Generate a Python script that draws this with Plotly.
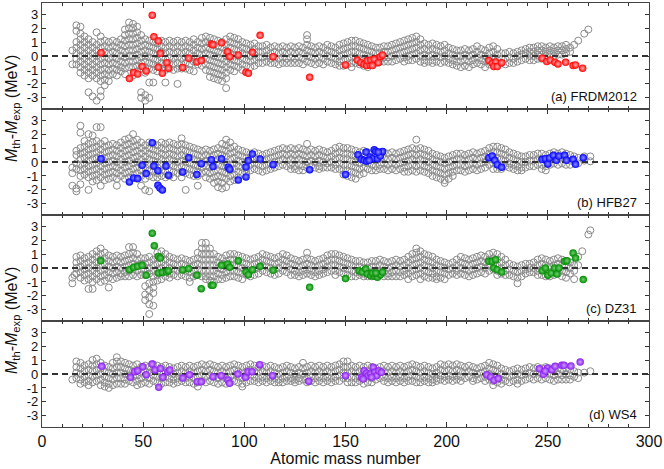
import plotly.graph_objects as go
from plotly.subplots import make_subplots

# ---------------- data ----------------
x_tick_vals = [0, 50, 100, 150, 200, 250, 300]
y_tick_vals = [-3, -2, -1, 0, 1, 2, 3]
y_tick_text = ["-3", "-2", "-1", "0", "1", "2", "3"]
panel_labels = ["(a) FRDM2012", "(b) HFB27", "(c) DZ31", "(d) WS4"]

# highlighted nuclei (mass numbers), shared by all panels
hl_A = [29.2, 43.2, 45.3, 47.3, 49.5, 51.5, 54.5, 55.3, 57.5, 58.5, 57.5, 59.5, 61.7, 62.5,
        69.5, 72.5, 76.5, 78.7, 83.7, 84.5, 88.7, 91.7, 92.8, 97.0, 100.8, 102.0, 104.0,
        107.8, 114.2, 132.3, 150.0]
hl_A_heavy = [155.8, 157.5, 159.2, 160.5, 162.2, 163.8, 165.0, 165.8, 167.2, 168.3, 160.8,
              162.5, 164.2, 166.2, 163.3, 220.8, 222.5, 224.2, 223.3, 225.0, 227.2, 247.2,
              249.5, 251.2, 253.5, 255.0, 258.8, 262.5, 263.7, 267.2]

red_y = [0.24, -1.62, -1.19, -1.29, -0.76, -1.07, 2.93, 1.38, 1.07, 0.19, -0.81, -1.24, -0.48,
         -0.88, -0.83, -0.17, -0.43, -0.33, 0.86, 0.81, 0.95, 0.31, -0.05, 0.07, -1.17, -1.24,
         0.26, 1.48, -0.05, -1.52, -0.64]
red_y_heavy = [-0.29, -0.48, -0.60, -0.69, -0.64, -0.52, -0.33, -0.17, -0.05, 0.07, -0.33,
               -0.29, -0.24, -0.48, -0.69, -0.33, -0.52, -0.43, -0.76, -0.76, -0.48, -0.17,
               -0.40, -0.29, -0.45, -0.57, -0.45, -0.69, -0.64, -0.88]

blue_A = [29.2, 43.2, 45.3, 47.3, 49.5, 51.5, 54.5, 55.3, 57.3, 57.3, 58.3, 59.5, 61.3, 62.5,
          69.5, 72.5, 76.5, 78.7, 83.7, 84.5, 88.7, 92.0, 92.8, 97.0, 100.8, 100.8, 102.0,
          104.0, 107.8, 114.2, 132.3, 150.0, 156.2, 157.8, 159.2, 160.2, 160.5, 162.2, 163.3,
          164.2, 165.0, 165.8, 167.2, 168.3, 161.7, 166.2, 220.8, 222.5, 223.8, 225.0, 227.2,
          247.2, 248.8, 250.0, 250.8, 252.8, 254.2, 255.5, 258.3, 259.2, 262.5, 263.7, 267.5]
blue_y = [0.24, -1.43, -1.14, -1.19, -0.24, -0.83, 1.38, -0.29, -0.62, -1.67, -1.86, -2.00,
          -0.29, -0.95, -0.71, 0.31, -0.90, -0.12, 0.17, -0.33, 0.24, -0.38, -0.52, -1.29,
          -0.36, -1.07, 0.10, 0.57, 0.21, -0.19, -0.55, -0.90, 0.52, 0.19, 0.12, 0.71, 0.05,
          0.36, 0.24, 0.88, 0.76, 0.24, 0.43, 0.76, 0.12, 0.71, 0.31, 0.43, 0.12, -0.19, -0.38,
          0.19, 0.24, -0.14, 0.29, 0.48, 0.12, 0.43, 0.48, 0.12, 0.19, -0.17, 0.31]

green_A = [29.0, 43.2, 45.3, 47.3, 49.5, 51.5, 54.5, 55.5, 57.5, 58.5, 57.5, 59.5, 61.5, 62.5,
           69.5, 72.5, 76.5, 78.7, 83.7, 84.5, 88.7, 91.7, 92.8, 97.0, 100.8, 102.0, 104.0,
           107.8, 114.2, 132.3, 150.0, 156.7, 158.3, 160.0, 160.8, 162.5, 164.2, 165.8, 167.2,
           168.3, 163.3, 165.0, 220.8, 222.5, 224.2, 223.3, 225.0, 227.2, 247.2, 248.8, 250.0,
           251.7, 253.3, 254.5, 255.5, 258.3, 259.5, 262.5, 263.7, 267.5]
green_y = [0.52, -0.12, 0.05, 0.12, 0.19, -0.52, 2.50, 1.60, 0.83, 0.71, -0.36, -0.31, -0.29,
           -0.19, -0.14, -0.05, -0.52, -1.48, -1.24, -1.24, 0.19, 0.29, 0.05, 0.52, -0.29,
           -0.48, -0.12, 0.12, -0.17, -1.38, -0.76, -0.19, -0.29, -0.07, -0.43, -0.55, -0.60,
           -0.67, -0.48, -0.29, -0.36, -0.36, 0.48, 0.48, 0.60, 0.00, -0.12, -0.29, -0.19,
           0.00, -0.52, -0.36, 0.00, -0.43, 0.00, 0.48, 0.52, 1.07, 0.71, -0.83]

violet_A = [29.5, 43.7, 45.7, 47.3, 49.8, 51.5, 54.4, 55.8, 57.7, 58.6, 59.7, 62.2, 63.2, 69.6,
            72.9, 76.7, 78.7, 84.5, 88.6, 91.9, 92.7, 96.8, 100.6, 101.8, 103.8, 107.6, 113.9,
            131.8, 150.0, 157.9, 159.2, 160.4, 161.2, 162.4, 163.7, 164.5, 165.3, 166.5, 167.8,
            162.9, 158.7, 219.8, 221.8, 223.4, 225.5, 245.8, 247.8, 249.8, 248.7, 252.0, 253.6,
            256.9, 258.0, 261.4, 266.0]
violet_y = [0.55, -0.24, 0.17, 0.24, 0.52, -0.05, 0.71, 0.29, -0.95, 0.40, -0.24, 0.17, 0.29,
            -0.29, -0.05, -0.55, -0.55, -0.19, -0.12, -0.43, -0.67, 0.00, -0.24, 0.17, 0.17,
            0.67, -0.12, -0.52, -0.12, -0.24, 0.24, 0.05, -0.12, 0.00, 0.48, 0.12, -0.12, 0.24,
            0.12, -0.24, -0.36, -0.05, -0.21, -0.45, -0.33, 0.38, -0.02, 0.43, 0.21, 0.31, 0.55,
            0.62, 0.62, 0.57, 0.86]

# all other nuclei: (mass number, deviations in MeV)
gray_a = [
    (15, [0.4, -0.6]), (17, [2.2, 1.8, 1.0, 0.6, 0.2, -0.2, -0.6]),
    (19, [2.1, 1.6, 1.2, 0.8, 0.4, 0.0, -0.4, -0.8, -1.2]),
    (21, [1.4, 1.0, 0.6, 0.2, -0.2, -0.6, -1.0, -1.4]),
    (23, [1.2, 0.8, 0.4, 0.0, -0.4, -0.8, -1.2, -1.6, -2.6]),
    (25, [1.0, 0.6, 0.2, -0.2, -0.6, -1.0, -1.4, -2.9]),
    (27, [1.7, 0.8, 0.4, 0.0, -0.4, -0.8, -1.2, -1.6, -3.2]),
    (29, [1.4, 1.0, 0.6, 0.2, -0.2, -0.6, -1.0, -1.4, -1.8, -2.5, -2.9]),
    (31, [1.1, 0.7, 0.3, -0.1, -0.5, -0.9, -1.3, -1.7, -2.1]),
    (33, [1.0, 0.6, 0.2, -0.2, -0.6, -1.0, -1.4, -1.8]),
    (35, [1.1, 0.7, 0.3, -0.1, -0.5, -0.9, -1.3]),
    (37, [1.0, 0.6, 0.2, -0.2, -0.6, -1.0, -1.4]),
    (39, [1.2, 0.8, 0.4, 0.0, -0.4, -0.8, -1.1]),
    (41, [1.9, 1.5, 1.1, 0.7, 0.3, -0.1, -0.5, -0.9, -1.3]),
    (43, [2.4, 2.0, 1.6, 1.2, 0.8, 0.4, 0.0, -0.4, -0.8]),
    (45, [2.3, 2.0, 1.6, 1.2, 0.8, 0.4, 0.0, -0.4, -0.8, -1.4]),
    (47, [2.1, 1.7, 1.3, 0.9, 0.5, 0.1, -0.3, -0.7, -1.1]),
    (49, [1.5, 1.1, 0.7, 0.3, -0.1, -0.5, -0.9, -2.6, -3.0]),
    (51, [1.2, 0.8, 0.4, 0.0, -0.4, -0.8, -1.2, -2.8, -3.2]),
    (53, [1.1, 0.7, 0.3, -0.1, -0.5, -0.9, -1.9, -3.0]),
    (55, [1.0, 0.6, 0.2, -0.2, -0.6, -1.0, -1.9]),
    (57, [0.9, 0.5, 0.1, -0.3, -0.7, -1.1]),
    (59, [1.1, 0.7, 0.3, -0.1, -0.5, -0.9]),
    (61, [1.0, 0.6, 0.2, -0.2, -0.6, -1.0, -1.9]),
    (63, [1.1, 0.7, 0.3, -0.1, -0.5, -0.9]),
    (65, [1.0, 0.6, 0.2, -0.2, -0.6, -1.0]),
    (67, [1.1, 0.7, 0.3, -0.1, -0.5, -0.9, -2.0]),
    (69, [1.0, 0.6, 0.2, -0.2, -0.6, -0.9]),
    (71, [1.1, 0.7, 0.3, -0.1, -0.5, -0.9]),
    (73, [1.0, 0.6, 0.2, -0.2, -0.6, -1.0]),
    (75, [1.2, 0.8, 0.4, 0.0, -0.4, -1.1]),
    (77, [1.0, 0.6, 0.2, -0.2, -0.6]),
    (79, [1.3, 0.9, 0.5, 0.1, -0.3, -0.7]),
    (81, [1.4, 1.0, 0.6, 0.2, -0.2, -0.6, -1.0]),
    (83, [1.3, 0.9, 0.5, 0.1, -0.3, -0.7, -1.1, -1.5]),
    (85, [1.2, 0.8, 0.4, 0.0, -0.4, -0.8, -1.2, -1.6]),
    (87, [1.1, 0.7, 0.3, -0.1, -0.5, -0.9, -1.3, -1.7]),
    (89, [1.0, 0.6, 0.2, -0.2, -0.6, -1.0, -1.4, -1.8]),
    (91, [1.2, 0.8, 0.4, 0.0, -0.4, -0.8, -1.2, -1.6, -2.3]),
    (93, [1.4, 1.0, 0.6, 0.2, -0.2, -0.6, -1.0]),
    (95, [1.3, 0.9, 0.5, 0.1, -0.3, -0.7, -1.1]),
    (97, [1.2, 0.8, 0.4, 0.0, -0.4, -0.8]),
    (99, [1.0, 0.6, 0.2, -0.2, -0.6, -1.0]),
    (101, [0.9, 0.5, 0.1, -0.3, -0.7]), (103, [0.8, 0.4, 0.0, -0.4, -0.8]),
    (105, [0.9, 0.5, 0.1, -0.3, -0.7]), (107, [0.7, 0.3, -0.1, -0.5]),
    (109, [0.7, 0.3, -0.1, -0.5]), (111, [0.8, 0.4, 0.0, -0.4]),
    (113, [0.6, 0.2, -0.2, -0.5]), (115, [0.7, 0.3, -0.1, -0.5]),
    (117, [0.6, 0.2, -0.2, -0.6]), (119, [0.7, 0.3, -0.1, -0.5]),
    (121, [0.6, 0.2, -0.2, -0.5]), (123, [0.7, 0.3, -0.1, -0.5]),
    (125, [0.6, 0.2, -0.2, -0.5]), (127, [0.7, 0.3, -0.1, -0.5]),
    (129, [0.6, 0.2, -0.2, -0.6]), (131, [1.5, 1.2, 0.8, 0.4, 0.0, -0.4]),
    (133, [0.7, 0.3, -0.1, -0.5]), (135, [0.6, 0.2, -0.2, -0.6]),
    (137, [0.7, 0.3, -0.1, -0.5]), (139, [0.6, 0.2, -0.2, -0.6]),
    (141, [0.8, 0.4, 0.0, -0.4]), (143, [0.7, 0.3, -0.1, -0.5]),
    (145, [0.6, 0.2, -0.2, -0.6]), (147, [0.8, 0.4, 0.0, -0.4, -0.7]),
    (149, [0.9, 0.5, 0.1, -0.3, -0.7]), (151, [1.0, 0.6, 0.2, -0.2, -0.6]),
    (153, [1.1, 0.7, 0.3, -0.1, -0.5, -0.8]), (155, [1.1, 0.7, 0.3, -0.1, -0.5]),
    (157, [1.0, 0.6, 0.2, -0.2, -0.6]), (159, [0.9, 0.5, 0.1, -0.3, -0.7]),
    (161, [0.8, 0.4, 0.0, -0.4, -0.8]), (163, [0.7, 0.3, -0.1, -0.5]),
    (165, [0.6, 0.2, -0.2, -0.5]), (167, [0.6, 0.2, -0.2, -0.4]),
    (169, [0.7, 0.3, -0.1, -0.4]), (171, [0.7, 0.3, -0.1, -0.4]),
    (173, [0.8, 0.4, 0.0, -0.4]), (175, [0.9, 0.5, 0.1, -0.3]),
    (177, [1.0, 0.6, 0.2, -0.2]), (179, [1.1, 0.7, 0.3, -0.1, -0.4]),
    (181, [1.2, 0.8, 0.4, 0.0, -0.3]), (183, [1.3, 0.9, 0.5, 0.1, -0.3]),
    (185, [1.4, 1.0, 0.6, 0.2, -0.2]), (187, [1.2, 0.8, 0.4, 0.0, -0.4]),
    (189, [0.9, 0.5, 0.1, -0.3, -0.5]), (191, [0.8, 0.4, 0.0, -0.4]),
    (193, [0.9, 0.5, 0.1, -0.3, -0.5]), (195, [0.8, 0.4, 0.0, -0.4]),
    (197, [0.7, 0.3, -0.1, -0.5]), (199, [0.8, 0.4, 0.0, -0.4]),
    (201, [0.6, 0.2, -0.2, -0.5]), (203, [0.5, 0.1, -0.3, -0.6]),
    (205, [0.4, 0.0, -0.4, -0.7]), (207, [0.4, 0.0, -0.4, -0.8]),
    (209, [0.5, 0.1, -0.3, -0.7]), (211, [0.4, 0.0, -0.4, -0.8]),
    (213, [0.5, 0.1, -0.3, -0.6]), (215, [0.7, 0.3, -0.1, -0.5]),
    (217, [0.5, 0.1, -0.3, -0.6]), (219, [0.4, 0.0, -0.4, -0.8]),
    (221, [0.6, 0.2, -0.2, -0.6]), (223, [0.7, 0.3, -0.1, -0.5]),
    (225, [0.5, 0.1, -0.3, -0.6]), (227, [0.2, -0.2, -0.5]),
    (229, [0.2, -0.2, -0.6]), (231, [0.3, -0.1, -0.5]),
    (233, [0.2, -0.2, -0.5]), (235, [0.3, 0.0, -0.4]),
    (237, [0.4, 0.1, -0.3]), (239, [0.5, 0.2, -0.2]),
    (241, [0.6, 0.3, 0.0, -0.3]), (243, [0.6, 0.3, 0.0, -0.3]),
    (245, [0.7, 0.4, 0.1, -0.2]), (247, [0.7, 0.4, 0.1, -0.2]),
    (249, [0.6, 0.3, 0.0]), (251, [0.7, 0.4, 0.1]), (253, [0.6, 0.3, 0.0]),
    (255, [0.7, 0.4, 0.1]), (257, [0.7, 0.4, 0.1]), (259, [0.8, 0.5, 0.2]),
    (261, [0.6, 0.3]), (263, [0.8]), (265, [1.1]), (268, [1.6]), (270, [1.9]),
]

gray_b = [
    (15, [-0.4, -0.8, -1.7]), (17, [0.8, 0.5, -0.1, -0.5, -1.9, -2.1]),
    (19, [2.6, 2.1, 1.0, 0.6, 0.2, -0.2, -0.6, -1.0, -1.6]),
    (21, [1.5, 1.1, 0.7, 0.3, -0.1, -0.5, -0.9]),
    (23, [2.0, 1.3, 0.9, 0.5, 0.1, -0.3, -0.7, -1.1, -2.0]),
    (25, [1.9, 1.4, 1.0, 0.6, 0.2, -0.2, -0.6, -1.0, -1.4]),
    (27, [2.5, 1.5, 1.1, 0.7, 0.3, -0.1, -0.5, -0.9, -1.3]),
    (29, [2.5, 1.3, 0.9, 0.5, 0.1, -0.3, -0.7, -1.1, -1.7]),
    (31, [1.5, 1.1, 0.7, 0.3, -0.1, -0.5, -0.9, -1.3]),
    (33, [1.2, 0.8, 0.4, 0.0, -0.4, -0.8, -1.2]),
    (35, [1.3, 0.9, 0.5, 0.1, -0.3, -0.7, -1.1]),
    (37, [1.2, 0.8, 0.4, 0.0, -0.4, -0.8, -1.2, -1.7]),
    (39, [1.4, 1.0, 0.6, 0.2, -0.2, -0.6, -1.0]),
    (41, [1.6, 1.2, 0.8, 0.4, 0.0, -0.4, -0.8, -1.2]),
    (43, [1.7, 1.3, 0.9, 0.5, 0.1, -0.3, -0.7, -1.1]),
    (45, [2.0, 1.5, 1.1, 0.7, 0.3, -0.1, -0.5, -0.9]),
    (47, [1.6, 1.2, 0.8, 0.4, 0.0, -0.4, -0.8, -1.2]),
    (49, [1.4, 1.0, 0.6, 0.2, -0.2, -0.6, -1.0, -1.7]),
    (51, [1.2, 0.8, 0.4, 0.0, -0.4, -0.8, -1.2, -2.0]),
    (53, [1.4, 1.0, 0.6, 0.2, -0.2, -0.6, -1.0, -2.1]),
    (55, [1.3, 0.9, 0.5, 0.1, -0.3, -0.7, -1.1]),
    (57, [1.2, 0.8, 0.4, 0.0, -0.4, -0.8, -1.1]),
    (59, [1.4, 1.0, 0.6, 0.2, -0.2, -0.6, -1.0]),
    (61, [1.3, 0.9, 0.5, 0.1, -0.3, -0.7, -1.1]),
    (63, [1.4, 1.0, 0.6, 0.2, -0.2, -0.6, -1.0]),
    (65, [1.3, 0.9, 0.5, 0.1, -0.3, -0.7, -1.1]),
    (67, [1.2, 0.8, 0.4, 0.0, -0.4, -0.8]),
    (69, [1.7, 1.3, 0.9, 0.5, 0.1, -0.3, -0.7, -1.1]),
    (71, [1.2, 0.8, 0.4, 0.0, -0.4, -0.8, -2.0]),
    (73, [1.1, 0.7, 0.3, -0.1, -0.5, -0.9]),
    (75, [1.0, 0.6, 0.2, -0.2, -0.6, -1.0]),
    (77, [0.9, 0.5, 0.1, -0.3, -0.7, -1.0, -1.7]),
    (79, [0.8, 0.4, 0.0, -0.4, -0.8]),
    (81, [0.9, 0.5, 0.1, -0.3, -0.7, -1.1]),
    (83, [0.8, 0.4, 0.0, -0.4, -0.8, -1.2]),
    (85, [0.9, 0.5, 0.1, -0.3, -0.7, -1.1, -1.5]),
    (87, [1.0, 0.6, 0.2, -0.2, -0.6, -1.0, -1.4, -1.8]),
    (89, [1.3, 0.9, 0.5, 0.1, -0.3, -0.7, -1.1, -1.5, -1.9]),
    (91, [1.6, 1.2, 0.8, 0.4, 0.0, -0.4, -0.8, -1.2, -1.8]),
    (93, [1.4, 1.0, 0.6, 0.2, -0.2, -0.6, -1.0, -1.4]),
    (95, [1.1, 0.7, 0.3, -0.1, -0.5, -0.9, -1.3]),
    (97, [0.9, 0.5, 0.1, -0.3, -0.7, -1.1]),
    (99, [0.8, 0.4, 0.0, -0.4, -0.8]), (101, [0.7, 0.3, -0.1, -0.5, -0.8]),
    (103, [0.6, 0.2, -0.2, -0.6]), (105, [0.7, 0.3, -0.1, -0.5]),
    (107, [0.6, 0.2, -0.2, -0.6]), (109, [0.5, 0.1, -0.3, -0.7]),
    (111, [0.6, 0.2, -0.2, -0.6]), (113, [0.7, 0.3, -0.1, -0.5]),
    (115, [0.8, 0.4, 0.0, -0.4]), (117, [0.9, 0.5, 0.1, -0.3]),
    (119, [1.0, 0.6, 0.2, -0.2]), (121, [0.9, 0.5, 0.1, -0.3]),
    (123, [1.0, 0.6, 0.2, -0.2, -0.5]), (125, [0.9, 0.5, 0.1, -0.3, -0.5]),
    (127, [1.0, 0.6, 0.2, -0.2, -0.6]), (129, [0.9, 0.5, 0.1, -0.3, -0.6]),
    (131, [1.3, 0.8, 0.4, 0.0, -0.4]), (133, [0.9, 0.5, 0.1, -0.3]),
    (135, [0.8, 0.4, 0.0, -0.4]), (137, [0.9, 0.5, 0.1, -0.3, -0.5]),
    (139, [0.8, 0.4, 0.0, -0.4]), (141, [0.7, 0.3, -0.1, -0.4]),
    (143, [0.8, 0.4, 0.0, -0.4]), (145, [1.0, 0.6, 0.2, -0.2, -0.5]),
    (147, [1.1, 0.7, 0.3, -0.1, -0.5]), (149, [1.0, 0.6, 0.2, -0.2, -0.6, -0.9]),
    (151, [1.0, 0.6, 0.2, -0.2, -0.6, -1.0]), (153, [0.9, 0.5, 0.1, -0.3, -0.7, -1.1]),
    (155, [0.8, 0.4, 0.0, -0.4, -0.8, -1.2]), (157, [0.7, 0.3, -0.1, -0.5, -0.9]),
    (159, [0.8, 0.4, 0.0, -0.4, -0.8]), (161, [0.7, 0.3, -0.1, -0.5]),
    (163, [0.6, 0.2, -0.2, -0.6]), (165, [0.5, 0.1, -0.3, -0.6]),
    (167, [0.6, 0.2, -0.2, -0.5]), (169, [0.7, 0.3, -0.1, -0.5]),
    (171, [0.6, 0.2, -0.2, -0.6]), (173, [0.7, 0.3, -0.1, -0.5]),
    (175, [0.6, 0.2, -0.2, -0.6]), (177, [0.7, 0.3, -0.1, -0.5]),
    (179, [0.8, 0.4, 0.0, -0.4, -0.7]), (181, [0.9, 0.5, 0.1, -0.3, -0.7]),
    (183, [1.0, 0.6, 0.2, -0.2, -0.6]), (185, [1.6, 0.9, 0.5, 0.1, -0.3, -0.7]),
    (187, [1.0, 0.6, 0.2, -0.2, -0.6]), (189, [0.9, 0.5, 0.1, -0.3, -0.7]),
    (191, [0.8, 0.4, 0.0, -0.4, -0.8]), (193, [0.6, 0.2, -0.2, -0.6, -1.0]),
    (195, [0.5, 0.1, -0.3, -0.7, -1.1]), (197, [0.4, 0.0, -0.4, -0.8, -1.2]),
    (199, [0.3, -0.1, -0.5, -0.9, -1.3, -1.5]), (201, [0.4, 0.0, -0.4, -0.8, -1.2]),
    (203, [0.5, 0.1, -0.3, -0.7, -1.0]), (205, [0.6, 0.2, -0.2, -0.6]),
    (207, [0.6, 0.2, -0.2, -0.6]), (209, [0.5, 0.1, -0.3, -0.7]),
    (211, [0.6, 0.2, -0.2, -0.6]), (213, [0.7, 0.3, -0.1, -0.5]),
    (215, [0.6, 0.2, -0.2, -0.6]), (217, [0.7, 0.3, -0.1, -0.5]),
    (219, [0.8, 0.4, 0.0, -0.4]), (221, [1.0, 0.6, 0.2, -0.2]),
    (223, [1.1, 0.7, 0.3, -0.1, -0.5]), (225, [1.1, 0.7, 0.3, -0.1, -0.5]),
    (227, [1.0, 0.6, 0.2, -0.2, -0.5]), (229, [0.9, 0.5, 0.1, -0.3]),
    (231, [0.7, 0.3, -0.1, -0.4]), (233, [0.6, 0.2, -0.2, -0.5]),
    (235, [0.5, 0.1, -0.3, -0.6]), (237, [0.4, 0.0, -0.4, -0.6]),
    (239, [0.4, 0.0, -0.4]), (241, [0.5, 0.1, -0.3]), (243, [0.5, 0.1, -0.3]),
    (245, [0.6, 0.2, -0.2]), (247, [0.6, 0.2, -0.2, -0.5]),
    (249, [0.5, 0.1, -0.3, -0.6]), (251, [0.6, 0.2, -0.2]), (253, [0.7, 0.3, -0.1]),
    (255, [0.6, 0.2, -0.2]), (257, [0.7, 0.3, -0.1]), (259, [0.6, 0.2, -0.2]),
    (261, [0.5, 0.1, -0.2]), (263, [0.4, 0.0]), (265, [0.3, -0.1]),
    (268, [0.4, 0.1]), (271, [0.4, 0.05]),
]

gray_c = [
    (15, [-1.1, -0.7]), (16, [-0.5]), (17, [0.8, 0.4, 0.0, -0.4]),
    (19, [0.9, 0.5, 0.1, -0.3, -0.7]), (21, [0.7, 0.3, -0.1, -0.5, -0.9]),
    (23, [0.8, 0.4, 0.0, -0.4, -0.8, -1.5]), (25, [1.0, 0.6, 0.2, -0.2, -0.6, -1.0, -1.5]),
    (27, [1.2, 0.8, 0.4, 0.0, -0.4, -0.8]), (29, [1.4, 1.0, 0.6, 0.2, -0.2, -0.6, -1.0]),
    (31, [1.1, 0.7, 0.3, -0.1, -0.5, -0.9]), (33, [0.9, 0.5, 0.1, -0.3, -0.7, -1.4]),
    (35, [0.8, 0.4, 0.0, -0.4, -0.8]), (37, [0.9, 0.5, 0.1, -0.3, -0.7]),
    (39, [0.8, 0.4, 0.0, -0.4, -0.6]), (41, [0.9, 0.5, 0.1, -0.3, -0.6]),
    (43, [1.5, 1.0, 0.6, 0.2, -0.2, -0.6]), (45, [1.5, 1.1, 0.7, 0.3, -0.1, -0.5]),
    (47, [1.0, 0.6, 0.2, -0.2, -0.6]), (49, [0.7, 0.3, -0.1, -0.5]),
    (51, [0.7, 0.3, -0.1, -0.5, -1.3, -1.9, -2.3]),
    (53, [0.8, 0.4, 0.0, -0.4, -1.1, -1.6, -2.1, -2.6, -3.3]),
    (55, [0.6, 0.2, -0.2, -0.6, -1.0, -1.4, -1.8, -2.7]),
    (57, [1.1, 0.7, 0.3, -0.1, -0.5, -0.9]), (59, [1.2, 0.8, 0.4, 0.0, -0.4, -0.8]),
    (61, [1.0, 0.6, 0.2, -0.2, -0.6]), (63, [0.8, 0.4, 0.0, -0.4, -0.7]),
    (65, [0.7, 0.3, -0.1, -0.5]), (67, [0.6, 0.2, -0.2, -0.6]),
    (69, [0.7, 0.3, -0.1, -0.5]), (71, [0.6, 0.2, -0.2, -0.6]),
    (73, [0.5, 0.1, -0.3, -0.7, -1.0]), (75, [0.6, 0.2, -0.2, -0.6]),
    (77, [1.1, 0.7, 0.3, -0.1, -0.5]), (79, [1.8, 1.4, 1.0, 0.6, 0.2, -0.2, -0.6]),
    (81, [1.8, 1.4, 1.0, 0.6, 0.2, -0.2, -0.6, -0.8]),
    (83, [1.4, 1.0, 0.6, 0.2, -0.2, -0.6, -0.9]), (85, [1.0, 0.6, 0.2, -0.2, -0.6, -1.0]),
    (87, [0.8, 0.4, 0.0, -0.4, -0.8]), (89, [0.7, 0.3, -0.1, -0.5, -0.8]),
    (91, [0.9, 0.5, 0.1, -0.3, -0.7]), (93, [1.0, 0.6, 0.2, -0.2, -0.6]),
    (95, [1.0, 0.6, 0.2, -0.2, -0.6]), (97, [0.9, 0.5, 0.1, -0.3, -0.7]),
    (99, [0.8, 0.4, 0.0, -0.4, -0.8]), (101, [0.7, 0.3, -0.1, -0.5]),
    (103, [0.6, 0.2, -0.2, -0.6]), (105, [0.7, 0.3, -0.1, -0.5]),
    (107, [0.8, 0.4, 0.0, -0.4]), (109, [1.0, 0.6, 0.2, -0.2]),
    (111, [0.9, 0.5, 0.1, -0.3]), (113, [0.8, 0.4, 0.0, -0.4]),
    (115, [0.7, 0.3, -0.1, -0.5]), (117, [0.8, 0.4, 0.0, -0.4]),
    (119, [1.0, 0.6, 0.2, -0.2]), (121, [0.9, 0.5, 0.1, -0.3]),
    (123, [0.7, 0.3, -0.1, -0.5]), (125, [0.6, 0.2, -0.2, -0.5]),
    (127, [0.5, 0.1, -0.3, -0.6]), (129, [0.6, 0.2, -0.2, -0.5]),
    (131, [1.1, 0.7, 0.3, -0.1, -0.4]), (133, [0.6, 0.2, -0.2, -0.5]),
    (135, [0.5, 0.1, -0.3, -0.6]), (137, [0.6, 0.2, -0.2, -0.5]),
    (139, [0.7, 0.3, -0.1, -0.4]), (141, [0.9, 0.5, 0.1, -0.3]),
    (143, [1.0, 0.6, 0.2, -0.2]), (145, [1.0, 0.6, 0.2, -0.2, -0.5]),
    (147, [0.9, 0.5, 0.1, -0.3]), (149, [0.8, 0.4, 0.0, -0.4]),
    (151, [0.7, 0.3, -0.1, -0.5]), (153, [0.6, 0.2, -0.2, -0.6]),
    (155, [0.5, 0.1, -0.3, -0.6]), (157, [0.5, 0.1, -0.3, -0.5]),
    (159, [0.4, 0.0, -0.4, -0.6]), (161, [0.4, 0.0, -0.4, -0.6]),
    (163, [0.5, 0.1, -0.3, -0.6]), (165, [0.5, 0.1, -0.3, -0.6]),
    (167, [0.6, 0.2, -0.2, -0.5]), (169, [0.5, 0.1, -0.3, -0.6]),
    (171, [0.4, 0.0, -0.4, -0.6]), (173, [0.5, 0.1, -0.3, -0.6]),
    (175, [0.6, 0.2, -0.2, -0.6]), (177, [0.5, 0.1, -0.3, -0.6]),
    (179, [0.6, 0.2, -0.2, -0.5]), (181, [0.8, 0.4, 0.0, -0.4, -0.8]),
    (183, [1.0, 0.6, 0.2, -0.2, -0.6]), (185, [1.4, 1.1, 0.7, 0.3, -0.1, -0.5]),
    (187, [1.2, 0.8, 0.4, 0.0, -0.4, -0.8]), (189, [1.0, 0.6, 0.2, -0.2, -0.6]),
    (191, [0.9, 0.5, 0.1, -0.3, -0.7]), (193, [0.8, 0.4, 0.0, -0.4, -0.7]),
    (195, [0.6, 0.2, -0.2, -0.6, -0.8]), (197, [0.5, 0.1, -0.3, -0.7]),
    (199, [0.4, 0.0, -0.4, -0.8]), (201, [0.3, -0.1, -0.5]),
    (203, [0.4, 0.0, -0.4]), (205, [0.6, 0.2, -0.2, -0.5]),
    (207, [0.8, 0.4, 0.0, -0.4]), (209, [0.7, 0.3, -0.1, -0.5]),
    (211, [0.6, 0.2, -0.2, -0.6]), (213, [0.7, 0.3, -0.1, -0.5]),
    (215, [0.8, 0.4, 0.0, -0.4]), (217, [0.9, 0.5, 0.1, -0.3]),
    (219, [0.8, 0.4, 0.0, -0.4]), (221, [1.0, 0.6, 0.2, -0.2]),
    (223, [1.1, 0.7, 0.3, -0.1]), (225, [1.0, 0.6, 0.2, -0.2, -0.5]),
    (227, [0.8, 0.4, 0.0, -0.4]), (229, [0.6, 0.2, -0.2, -0.5]),
    (231, [0.3, -0.1, -0.5]), (233, [0.2, -0.2, -0.6]),
    (235, [0.1, -0.3, -0.7, -1.1]), (237, [0.2, -0.2, -0.6]),
    (239, [0.3, -0.1, -0.4]), (241, [0.3, 0.0, -0.3]), (243, [0.4, 0.0, -0.3]),
    (245, [0.6, 0.2, -0.2, -0.5]), (247, [0.7, 0.3, -0.1, -0.5]),
    (249, [0.6, 0.2, -0.2, -0.6]), (251, [0.5, 0.1, -0.3, -0.6]),
    (253, [0.6, 0.2, -0.2, -0.5]), (255, [0.7, 0.3, -0.1, -0.4]),
    (257, [0.6, 0.2, -0.2, -0.6]), (259, [0.5, 0.1, -0.3, -0.7]),
    (261, [0.4, 0.0, -0.4]), (263, [0.2, -0.2, -0.8]), (265, [0.8, 0.2]),
    (267, [1.2]), (270, [2.4]), (271, [2.7]),
]

gray_d = [
    (15, [-0.4]), (17, [0.9, 0.5, 0.1, -0.3]), (19, [0.8, 0.4, 0.0, -0.4, -0.7]),
    (21, [0.6, 0.2, -0.2, -0.6]), (23, [0.7, 0.3, -0.1, -0.5, -0.8]),
    (25, [1.0, 0.6, 0.2, -0.2, -0.6]), (27, [1.1, 0.7, 0.3, -0.1, -0.5]),
    (29, [0.8, 0.4, 0.0, -0.4, -0.8]), (31, [0.6, 0.2, -0.2, -0.6, -0.9]),
    (33, [0.5, 0.1, -0.3, -0.7, -1.0]), (35, [0.8, 0.4, 0.0, -0.4, -0.8]),
    (37, [1.2, 0.9, 0.5, 0.1, -0.3, -0.7]), (39, [0.9, 0.5, 0.1, -0.3, -0.7]),
    (41, [0.8, 0.4, 0.0, -0.4, -0.7]), (43, [0.7, 0.3, -0.1, -0.5]),
    (45, [0.6, 0.2, -0.2, -0.6]), (47, [0.7, 0.3, -0.1, -0.5, -0.8]),
    (49, [0.5, 0.1, -0.3, -0.7]), (51, [0.6, 0.2, -0.2, -0.6]),
    (53, [0.5, 0.1, -0.3, -0.7]), (55, [0.7, 0.3, -0.1, -0.5]),
    (57, [0.6, 0.2, -0.2, -0.6]), (59, [0.5, 0.1, -0.3, -0.7]),
    (61, [0.6, 0.2, -0.2, -0.6]), (63, [0.5, 0.1, -0.3, -0.6]),
    (65, [0.4, 0.0, -0.4, -0.7]), (67, [0.5, 0.1, -0.3, -0.6]),
    (69, [0.6, 0.2, -0.2, -0.5]), (71, [0.5, 0.1, -0.3, -0.6]),
    (73, [0.6, 0.2, -0.2, -0.6]), (75, [0.5, 0.1, -0.3, -0.7]),
    (77, [0.6, 0.2, -0.2, -0.6, -0.9]), (79, [0.7, 0.3, -0.1, -0.5]),
    (81, [0.6, 0.2, -0.2, -0.6]), (83, [0.7, 0.3, -0.1, -0.5]),
    (85, [0.6, 0.2, -0.2, -0.6]), (87, [0.5, 0.1, -0.3, -0.7]),
    (89, [0.6, 0.2, -0.2, -0.6]), (91, [0.5, 0.1, -0.3, -0.7]),
    (93, [0.6, 0.2, -0.2, -0.6]), (95, [0.7, 0.3, -0.1, -0.5]),
    (97, [0.6, 0.2, -0.2, -0.6]), (99, [0.5, 0.1, -0.3, -0.7, -0.9]),
    (101, [0.6, 0.2, -0.2, -0.6]), (103, [0.7, 0.3, -0.1, -0.5]),
    (105, [0.6, 0.2, -0.2, -0.5]), (107, [0.5, 0.1, -0.3, -0.6]),
    (109, [0.6, 0.2, -0.2, -0.5]), (111, [0.5, 0.1, -0.3, -0.6]),
    (113, [0.6, 0.2, -0.2, -0.5]), (115, [0.5, 0.1, -0.3, -0.6]),
    (117, [0.4, 0.0, -0.4, -0.6]), (119, [0.5, 0.1, -0.3, -0.6]),
    (121, [0.6, 0.2, -0.2, -0.5]), (123, [0.5, 0.1, -0.3, -0.5]),
    (125, [0.4, 0.0, -0.4, -0.6]), (127, [0.5, 0.1, -0.3, -0.5]),
    (129, [0.8, 0.4, 0.0, -0.4]), (131, [0.5, 0.1, -0.3, -0.6]),
    (133, [0.6, 0.2, -0.2, -0.5]), (135, [0.5, 0.1, -0.3, -0.6]),
    (137, [0.6, 0.2, -0.2, -0.5]), (139, [0.5, 0.1, -0.3, -0.6]),
    (141, [0.6, 0.2, -0.2, -0.5]), (143, [0.5, 0.1, -0.3, -0.6]),
    (145, [0.6, 0.2, -0.2, -0.5]), (147, [0.7, 0.3, -0.1, -0.5]),
    (149, [0.9, 0.5, 0.1, -0.3]), (151, [0.9, 0.5, 0.1, -0.3, -0.6]),
    (153, [0.6, 0.2, -0.2, -0.6]), (155, [0.5, 0.1, -0.3, -0.6]),
    (157, [0.6, 0.2, -0.2, -0.5]), (159, [0.5, 0.1, -0.3, -0.7]),
    (161, [0.6, 0.2, -0.2, -0.6]), (163, [0.5, 0.1, -0.3, -0.6]),
    (165, [0.4, 0.0, -0.4]), (167, [0.5, 0.1, -0.3]),
    (169, [0.6, 0.2, -0.2, -0.5]), (171, [0.5, 0.1, -0.3, -0.6]),
    (173, [0.6, 0.2, -0.2, -0.5]), (175, [0.5, 0.1, -0.3, -0.6]),
    (177, [0.6, 0.2, -0.2, -0.5]), (179, [0.5, 0.1, -0.3, -0.6]),
    (181, [0.6, 0.2, -0.2, -0.5]), (183, [0.7, 0.3, -0.1, -0.5]),
    (185, [0.6, 0.2, -0.2, -0.6]), (187, [0.5, 0.1, -0.3, -0.6]),
    (189, [0.6, 0.2, -0.2, -0.5]), (191, [0.5, 0.1, -0.3, -0.6]),
    (193, [0.4, 0.0, -0.4, -0.6]), (195, [0.5, 0.1, -0.3, -0.5]),
    (197, [0.7, 0.3, -0.1, -0.4]), (199, [0.6, 0.2, -0.2, -0.5]),
    (201, [0.7, 0.3, -0.1, -0.4]), (203, [0.6, 0.2, -0.2, -0.5]),
    (205, [0.7, 0.3, -0.1, -0.4]), (207, [0.6, 0.2, -0.2, -0.5]),
    (209, [0.5, 0.1, -0.3]), (211, [0.6, 0.2, -0.2]),
    (213, [0.5, 0.1, -0.3, -0.5]), (215, [0.4, 0.0, -0.4]),
    (217, [0.5, 0.1, -0.3]), (219, [0.6, 0.2, -0.2, -0.5]),
    (221, [0.8, 0.4, 0.0, -0.4]), (223, [0.7, 0.3, -0.1, -0.5, -0.8]),
    (225, [0.6, 0.2, -0.2, -0.6]), (227, [0.4, 0.0, -0.4, -0.7]),
    (229, [0.3, -0.1, -0.5]), (231, [0.2, -0.2, -0.6]), (233, [0.3, -0.1, -0.5]),
    (235, [0.4, 0.0, -0.4, -0.7]), (237, [0.3, -0.1, -0.5]), (239, [0.4, 0.0, -0.4]),
    (241, [0.5, 0.1, -0.3]), (243, [0.4, 0.0, -0.4]), (245, [0.5, 0.1, -0.3]),
    (247, [0.4, 0.0, -0.4]), (249, [0.5, 0.1, -0.3]), (251, [0.4, 0.0, -0.4]),
    (253, [0.3, -0.1, -0.5]), (255, [0.4, 0.0, -0.4]), (257, [0.3, -0.1, -0.4]),
    (259, [0.4, 0.0, -0.4]), (261, [0.3, -0.1, -0.4]), (263, [0.2, -0.2]),
    (265, [0.1, -0.3]), (268, [0.1]), (271, [0.2]),
]

# ---------------- figure ----------------
FONT = "Liberation Sans, Arial, Helvetica, sans-serif"
fig = make_subplots(rows=4, cols=1, shared_xaxes=True, vertical_spacing=0)

panels = [
    (gray_a, hl_A + hl_A_heavy, red_y + red_y_heavy, "#ff0000", "#ffb0b0"),
    (gray_b, blue_A, blue_y, "#0000ff", "#9090ff"),
    (gray_c, green_A, green_y, "#008a00", "#70d070"),
    (gray_d, violet_A, violet_y, "#8b1cf0", "#d0a0ff"),
]

for i, (gray, hx, hy, col, hi) in enumerate(panels):
    r = i + 1
    gx = [a for a, ys in gray for _ in ys]
    gy = [v for a, ys in gray for v in ys]
    fig.add_trace(go.Scatter(
        x=gx, y=gy, mode="markers",
        marker=dict(symbol="circle-open", size=7, color="#8a8a8a",
                    line=dict(color="#8a8a8a", width=1)),
        showlegend=False, hoverinfo="skip"), row=r, col=1)
    fig.add_trace(go.Scatter(
        x=[0, 300], y=[0, 0], mode="lines",
        line=dict(color="#333333", width=2, dash="6px,4px"),
        showlegend=False, hoverinfo="skip"), row=r, col=1)
    fig.add_trace(go.Scatter(
        x=hx, y=hy, mode="markers",
        marker=dict(symbol="circle", size=7.5, color=col,
                    gradient=dict(type="radial", color=hi),
                    line=dict(width=0)),
        showlegend=False), row=r, col=1)
    fig.add_annotation(x=295, y=-2.9, xref=f"x{'' if r == 1 else r}",
                       yref=f"y{'' if r == 1 else r}", text=panel_labels[i],
                       showarrow=False, xanchor="right", yanchor="middle",
                       font=dict(family=FONT, size=13, color="#111"))

fig.update_xaxes(range=[0, 300], tickvals=x_tick_vals, ticks="inside", ticklen=5,
                 tickwidth=1.3, tickcolor="#333",
                 minor=dict(ticks="inside", ticklen=3, dtick=10, tickcolor="#333", tickwidth=1),
                 showline=True, linecolor="#444", linewidth=1.3, mirror="ticks",
                 showgrid=False, zeroline=False,
                 tickfont=dict(family=FONT, size=16, color="#111"))
fig.update_yaxes(range=[-3.8, 3.8], tickvals=y_tick_vals, ticktext=y_tick_text,
                 ticks="inside", ticklen=4, tickwidth=1.3, tickcolor="#333",
                 showline=True, linecolor="#444", linewidth=1.3, mirror="ticks",
                 showgrid=False, zeroline=False,
                 tickfont=dict(family=FONT, size=13, color="#111"))
fig.update_xaxes(title_text="Atomic mass number", title_standoff=2,
                 title_font=dict(family=FONT, size=16, color="#111"), row=4, col=1)

ytitle = "<i>M</i><sub>th</sub>-<i>M</i><sub>exp</sub> (MeV)"
for yc in (0.75, 0.25):
    fig.add_annotation(x=0, y=yc, xref="paper", yref="paper", text=ytitle,
                       textangle=-90, showarrow=False, xanchor="center", yanchor="middle",
                       xshift=-30, font=dict(family=FONT, size=16, color="#111"))

fig.update_layout(width=664, height=469, margin=dict(l=42, r=15, t=3, b=42, autoexpand=False),
                  plot_bgcolor="white", paper_bgcolor="white",
                  font=dict(family=FONT))

fig.write_html("out.html", config={"displayModeBar": False},
               post_script="document.body.style.margin='0';document.body.style.overflow='hidden';")
